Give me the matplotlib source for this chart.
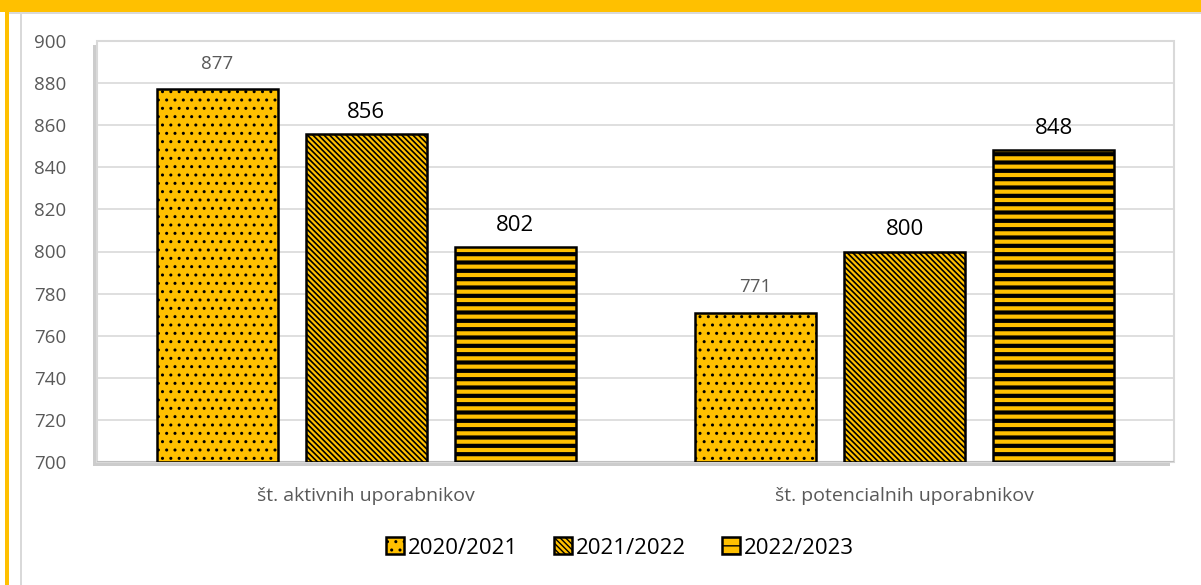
import matplotlib
matplotlib.use("Agg")
import matplotlib.pyplot as plt
import matplotlib.patheffects as pe
from matplotlib.patches import Rectangle
import numpy as np

plt.rcParams['font.family'] = ['Open Sans', 'DejaVu Sans']

# podatki
kategorije = ["št. aktivnih uporabnikov", "št. potencialnih uporabnikov"]
leta = ["2020/2021", "2021/2022", "2022/2023"]
v_2020 = [877, 771]
v_2021 = [856, 800]
v_2022 = [802, 848]
vrednosti = [v_2020, v_2021, v_2022]
vzorci = ["..", "\\\\\\\\\\\\", "--"]
hatch_lw = [1.0, 1.2, 3.0]

rumena = "#FFC000"
siva = "#595959"

fig = plt.figure(figsize=(12.01, 5.85), dpi=100)
W, H = 1201, 585

# okvir (rumeni pas zgoraj in levo)
fig.patches.append(Rectangle((0, 1 - 12 / H), 1, 12 / H, transform=fig.transFigure,
                             facecolor=rumena, edgecolor="none", zorder=0))
fig.patches.append(Rectangle((5 / W, 0), 4 / W, 1 - 12 / H, transform=fig.transFigure,
                             facecolor=rumena, edgecolor="none", zorder=0))
fig.patches.append(Rectangle((20 / W, 0), 1.5 / W, 1 - 12 / H, transform=fig.transFigure,
                             facecolor="#D9D9D9", edgecolor="none", zorder=0))
fig.patches.append(Rectangle((9 / W, 1 - 14 / H), 1 - 9 / W, 2 / H, transform=fig.transFigure,
                             facecolor="#D9D9D9", edgecolor="none", zorder=0))

ax = fig.add_axes([97 / W, 1 - 462 / H, (1174 - 97) / W, (462 - 41) / H])
ax.patch.set_edgecolor("#D9D9D9")
ax.patch.set_linewidth(1.5)
ax.patch.set_path_effects([pe.SimplePatchShadow(offset=(-3, -3), shadow_rgbFace="#9a9a9a", alpha=0.5),
                           pe.Normal()])

x = np.arange(len(kategorije))
sirina = 0.225
razmik = 0.277

for i, (leto, vals) in enumerate(zip(leta, vrednosti)):
    with plt.rc_context({'hatch.linewidth': hatch_lw[i], 'hatch.color': 'black'}):
        bars = ax.bar(x + (i - 1) * razmik, [v - 700 for v in vals], width=sirina, bottom=700,
                      color=rumena, edgecolor="black", linewidth=1.8, hatch=vzorci[i],
                      label=leto, zorder=3)
    for b in bars:
        if hasattr(b, "set_hatch_linewidth"):
            b.set_hatch_linewidth(hatch_lw[i])
    for b, v in zip(bars, vals):
        if i == 0:
            kw = dict(fontsize=13.5, color=siva)
            odmik = 12
        else:
            kw = dict(fontsize=16, color="black")
            odmik = 8
        ax.annotate(str(v), (b.get_x() + b.get_width() / 2, b.get_y() + b.get_height()),
                    xytext=(0, odmik), textcoords="offset points", ha="center", va="bottom", **kw)

ax.set_ylim(700, 900)
ax.set_xlim(-0.5, 1.5)
ax.set_yticks(np.arange(700, 901, 20))
ax.yaxis.grid(True, color="#D9D9D9", linewidth=1.2, zorder=0)
ax.set_axisbelow(True)
ax.set_xticks(x)
ax.set_xticklabels(kategorije, fontsize=14)
ax.tick_params(axis="both", length=0, labelsize=14, labelcolor=siva)
ax.tick_params(axis="y", labelsize=13.5, pad=22)
ax.tick_params(axis="x", pad=18)
for s in ax.spines.values():
    s.set_visible(False)
ax.axhline(700, color="#BFBFBF", linewidth=1.5, zorder=2)

leg = fig.legend(loc="center", bbox_to_anchor=(620 / W, 1 - 548 / H), ncol=3, frameon=False,
                 fontsize=16, handlelength=0.8, handleheight=0.8, handletextpad=0.2,
                 columnspacing=1.6)

fig.savefig("out.png", dpi=100)
